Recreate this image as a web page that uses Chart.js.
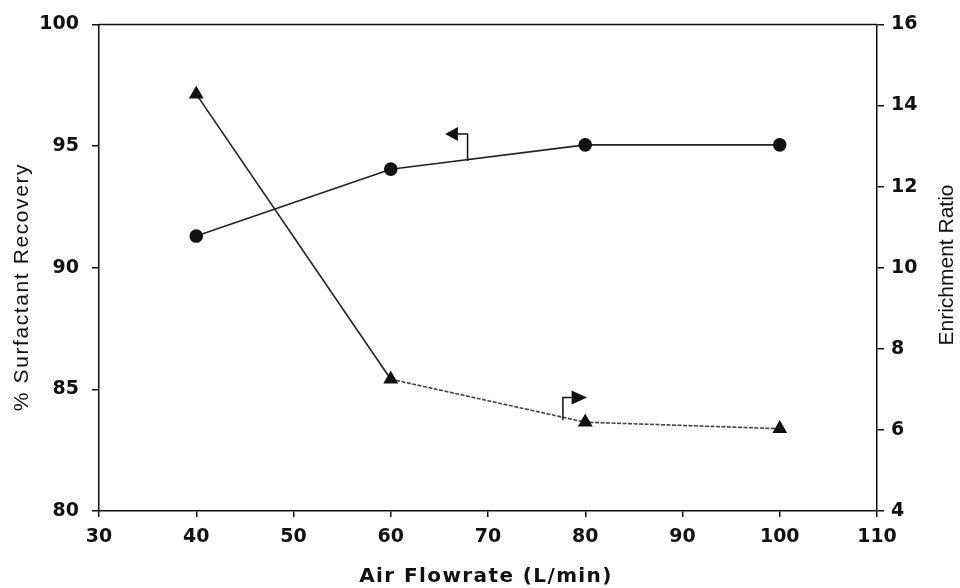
<!DOCTYPE html>
<html><head><meta charset="utf-8">
<script src="https://cdn.jsdelivr.net/npm/chart.js@4"></script>
<style>html,body{margin:0;padding:0;background:#fff}#wrap{width:960px;height:588px;position:relative}</style>
</head><body><div id="wrap"><canvas id="c"></canvas></div>
<script>
const flowrates = [40, 60, 80, 100];
const recovery = [91.3, 94.05, 95.05, 95.05];
const enrichment = [14.28, 7.25, 6.19, 6.03];
const xTicks = [30, 40, 50, 60, 70, 80, 90, 100, 110];
const leftTicks = [80, 85, 90, 95, 100];
const rightTicks = [4, 6, 8, 10, 12, 14, 16];
const xTitle = 'Air Flowrate (L/min)';
const leftTitle = '% Surfactant Recovery';
const rightTitle = 'Enrichment Ratio';
// annotation arrows in data units: [stem x, stem y start, stem y end, head base x, head tip x]
const recoveryArrow = [67.9, 94.39, 95.5, 66.9, 65.6];
const enrichmentArrow = [77.7, 6.24, 6.80, 78.6, 80.2];

const INK = '#111';
const tickFont = {family: 'DejaVu Sans', weight: 'bold', size: 19};

function fixedTicks(arr) {
  return function(scale) { scale.ticks = arr.map(v => ({value: v})); };
}

const deco = {
  id: 'deco',
  afterDatasetsDraw(chart) {
    const {ctx, chartArea: a, scales} = chart;
    const x = scales.x;
    ctx.save();
    ctx.strokeStyle = INK; ctx.fillStyle = INK; ctx.lineWidth = 1.5;
    ctx.beginPath(); ctx.moveTo(a.left, a.top); ctx.lineTo(a.right, a.top); ctx.stroke();
    function arrow(arr, ys) {
      const sx = x.getPixelForValue(arr[0]);
      const y0 = ys.getPixelForValue(arr[1]), y1 = ys.getPixelForValue(arr[2]);
      const bx = x.getPixelForValue(arr[3]), tx = x.getPixelForValue(arr[4]);
      ctx.beginPath(); ctx.moveTo(sx, y0); ctx.lineTo(sx, y1); ctx.lineTo(bx, y1); ctx.stroke();
      ctx.beginPath(); ctx.moveTo(tx, y1); ctx.lineTo(bx, y1 - 7); ctx.lineTo(bx, y1 + 7); ctx.closePath(); ctx.fill();
    }
    arrow(recoveryArrow, scales.yL);
    arrow(enrichmentArrow, scales.yR);
    ctx.restore();
  },
  afterDraw(chart) {
    const {ctx, chartArea: a} = chart;
    ctx.save();
    ctx.fillStyle = INK;
    ctx.textAlign = 'center'; ctx.textBaseline = 'middle';
    ctx.font = 'bold 20px "DejaVu Sans"';
    ctx.letterSpacing = '1.4px';
    ctx.fillText(xTitle, (a.left + a.right) / 2 - 2, 577);
    ctx.font = '21px "Liberation Sans"';
    ctx.letterSpacing = '1.6px';
    ctx.save(); ctx.translate(22, 287); ctx.rotate(-Math.PI / 2); ctx.fillText(leftTitle, 0, 0); ctx.restore();
    ctx.letterSpacing = '0px';
    ctx.save(); ctx.translate(947, 265); ctx.rotate(-Math.PI / 2); ctx.fillText(rightTitle, 0, 0); ctx.restore();
    ctx.restore();
  }
};

new Chart(document.getElementById('c'), {
  type: 'line',
  data: {
    datasets: [
      {
        label: 'Recovery', yAxisID: 'yL',
        data: flowrates.map((f, i) => ({x: f, y: recovery[i]})),
        borderColor: '#222', borderWidth: 1.6,
        pointStyle: 'circle', pointRadius: 6, pointBackgroundColor: INK, pointBorderColor: INK
      },
      {
        label: 'Enrichment', yAxisID: 'yR',
        data: flowrates.map((f, i) => ({x: f, y: enrichment[i]})),
        borderColor: '#222', borderWidth: 1.6,
        segment: {
          borderDash: c => c.p0DataIndex >= 1 ? [4, 1.5] : undefined,
          borderColor: c => c.p0DataIndex >= 1 ? '#444' : '#222'
        },
        pointStyle: 'triangle', pointRadius: 7, pointBackgroundColor: INK, pointBorderColor: INK
      }
    ]
  },
  options: {
    responsive: true, maintainAspectRatio: false, animation: false,
    layout: {padding: {top: 23, left: 0, right: 0, bottom: 0}},
    plugins: {legend: {display: false}, tooltip: {enabled: false}},
    scales: {
      x: {
        type: 'linear', min: 30, max: 110,
        afterBuildTicks: fixedTicks(xTicks),
        afterFit: s => { s.height = 77; },
        grid: {drawOnChartArea: false, drawTicks: true, tickLength: 6, color: INK, lineWidth: 1.5},
        border: {display: true, color: INK, width: 1.5},
        ticks: {font: tickFont, color: INK, padding: 9, maxRotation: 0}
      },
      yL: {
        type: 'linear', position: 'left', min: 80, max: 100,
        afterBuildTicks: fixedTicks(leftTicks),
        afterFit: s => { s.width = 99; },
        grid: {drawOnChartArea: false, drawTicks: true, tickLength: 7, color: INK, lineWidth: 1.5},
        border: {display: true, color: INK, width: 1.5},
        ticks: {font: tickFont, color: INK, padding: 13}
      },
      yR: {
        type: 'linear', position: 'right', min: 4, max: 16,
        afterBuildTicks: fixedTicks(rightTicks),
        afterFit: s => { s.width = 83; },
        grid: {drawOnChartArea: false, drawTicks: true, tickLength: 7, color: INK, lineWidth: 1.5},
        border: {display: true, color: INK, width: 1.5},
        ticks: {font: tickFont, color: INK, padding: 7}
      }
    }
  },
  plugins: [deco]
});
</script>
</body></html>
